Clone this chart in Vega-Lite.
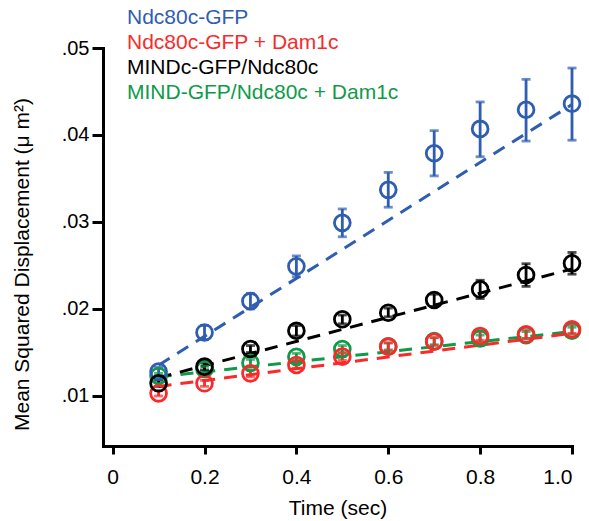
{
  "$schema": "https://vega.github.io/schema/vega-lite/v6.json",
  "autosize": {"type": "none"},
  "padding": {"left": 103, "top": 48, "right": 17, "bottom": 75},
  "width": 469,
  "height": 398,
  "config": {"font": "Liberation Sans", "view": {"stroke": null}},
  "datasets": {
    "obs": [
      {"series": "MIND-GFP/Ndc80c + Dam1c", "t": 0.1, "msd": 0.0123, "lo": 0.0120, "hi": 0.0126},
      {"series": "MIND-GFP/Ndc80c + Dam1c", "t": 0.2, "msd": 0.0131, "lo": 0.0128, "hi": 0.0134},
      {"series": "MIND-GFP/Ndc80c + Dam1c", "t": 0.3, "msd": 0.0138, "lo": 0.0134, "hi": 0.0142},
      {"series": "MIND-GFP/Ndc80c + Dam1c", "t": 0.4, "msd": 0.0145, "lo": 0.0141, "hi": 0.0149},
      {"series": "MIND-GFP/Ndc80c + Dam1c", "t": 0.5, "msd": 0.0154, "lo": 0.0150, "hi": 0.0158},
      {"series": "MIND-GFP/Ndc80c + Dam1c", "t": 0.6, "msd": 0.0157, "lo": 0.0153, "hi": 0.0161},
      {"series": "MIND-GFP/Ndc80c + Dam1c", "t": 0.7, "msd": 0.0163, "lo": 0.0159, "hi": 0.0167},
      {"series": "MIND-GFP/Ndc80c + Dam1c", "t": 0.8, "msd": 0.0166, "lo": 0.0162, "hi": 0.0170},
      {"series": "MIND-GFP/Ndc80c + Dam1c", "t": 0.9, "msd": 0.0170, "lo": 0.0166, "hi": 0.0174},
      {"series": "MIND-GFP/Ndc80c + Dam1c", "t": 1.0, "msd": 0.0175, "lo": 0.0171, "hi": 0.0179},
      {"series": "Ndc80c-GFP + Dam1c", "t": 0.1, "msd": 0.0103, "lo": 0.0100, "hi": 0.0106},
      {"series": "Ndc80c-GFP + Dam1c", "t": 0.2, "msd": 0.01146, "lo": 0.0111, "hi": 0.0118},
      {"series": "Ndc80c-GFP + Dam1c", "t": 0.3, "msd": 0.0126, "lo": 0.0122, "hi": 0.0130},
      {"series": "Ndc80c-GFP + Dam1c", "t": 0.4, "msd": 0.01356, "lo": 0.0132, "hi": 0.0140},
      {"series": "Ndc80c-GFP + Dam1c", "t": 0.5, "msd": 0.01452, "lo": 0.0141, "hi": 0.0149},
      {"series": "Ndc80c-GFP + Dam1c", "t": 0.6, "msd": 0.01567, "lo": 0.0152, "hi": 0.0161},
      {"series": "Ndc80c-GFP + Dam1c", "t": 0.7, "msd": 0.01624, "lo": 0.0158, "hi": 0.0167},
      {"series": "Ndc80c-GFP + Dam1c", "t": 0.8, "msd": 0.0169, "lo": 0.0164, "hi": 0.0174},
      {"series": "Ndc80c-GFP + Dam1c", "t": 0.9, "msd": 0.01709, "lo": 0.0166, "hi": 0.0176},
      {"series": "Ndc80c-GFP + Dam1c", "t": 1.0, "msd": 0.01767, "lo": 0.0172, "hi": 0.0182},
      {"series": "Ndc80c-GFP", "t": 0.1, "msd": 0.0128, "lo": 0.0123, "hi": 0.0133},
      {"series": "Ndc80c-GFP", "t": 0.2, "msd": 0.0173, "lo": 0.0165, "hi": 0.0181},
      {"series": "Ndc80c-GFP", "t": 0.3, "msd": 0.0209, "lo": 0.0200, "hi": 0.0218},
      {"series": "Ndc80c-GFP", "t": 0.4, "msd": 0.0249, "lo": 0.0237, "hi": 0.0261},
      {"series": "Ndc80c-GFP", "t": 0.5, "msd": 0.0299, "lo": 0.0283, "hi": 0.0315},
      {"series": "Ndc80c-GFP", "t": 0.6, "msd": 0.0337, "lo": 0.0317, "hi": 0.0357},
      {"series": "Ndc80c-GFP", "t": 0.7, "msd": 0.0379, "lo": 0.0353, "hi": 0.0405},
      {"series": "Ndc80c-GFP", "t": 0.8, "msd": 0.0407, "lo": 0.0375, "hi": 0.0438},
      {"series": "Ndc80c-GFP", "t": 0.9, "msd": 0.0429, "lo": 0.0393, "hi": 0.0464},
      {"series": "Ndc80c-GFP", "t": 1.0, "msd": 0.0436, "lo": 0.0394, "hi": 0.0477},
      {"series": "MINDc-GFP/Ndc80c", "t": 0.1, "msd": 0.01146, "lo": 0.0111, "hi": 0.0118},
      {"series": "MINDc-GFP/Ndc80c", "t": 0.2, "msd": 0.01337, "lo": 0.0130, "hi": 0.0138},
      {"series": "MINDc-GFP/Ndc80c", "t": 0.3, "msd": 0.0154, "lo": 0.0150, "hi": 0.0158},
      {"series": "MINDc-GFP/Ndc80c", "t": 0.4, "msd": 0.0175, "lo": 0.0169, "hi": 0.0181},
      {"series": "MINDc-GFP/Ndc80c", "t": 0.5, "msd": 0.01882, "lo": 0.0183, "hi": 0.0193},
      {"series": "MINDc-GFP/Ndc80c", "t": 0.6, "msd": 0.01957, "lo": 0.0191, "hi": 0.0201},
      {"series": "MINDc-GFP/Ndc80c", "t": 0.7, "msd": 0.02103, "lo": 0.0203, "hi": 0.0217},
      {"series": "MINDc-GFP/Ndc80c", "t": 0.8, "msd": 0.02226, "lo": 0.0212, "hi": 0.0233},
      {"series": "MINDc-GFP/Ndc80c", "t": 0.9, "msd": 0.02391, "lo": 0.0226, "hi": 0.0252},
      {"series": "MINDc-GFP/Ndc80c", "t": 1.0, "msd": 0.02525, "lo": 0.0240, "hi": 0.0265}
    ],
    "fit": [
      {"series": "MIND-GFP/Ndc80c + Dam1c", "t": 0.1, "msd": 0.0122},
      {"series": "MIND-GFP/Ndc80c + Dam1c", "t": 1.0, "msd": 0.0174},
      {"series": "Ndc80c-GFP + Dam1c", "t": 0.1, "msd": 0.0111},
      {"series": "Ndc80c-GFP + Dam1c", "t": 1.0, "msd": 0.0172},
      {"series": "Ndc80c-GFP", "t": 0.1, "msd": 0.01353},
      {"series": "Ndc80c-GFP", "t": 1.0, "msd": 0.0435},
      {"series": "MINDc-GFP/Ndc80c", "t": 0.1, "msd": 0.0121},
      {"series": "MINDc-GFP/Ndc80c", "t": 1.0, "msd": 0.0246}
    ]
  },
  "encoding": {
    "x": {
      "field": "t", "type": "quantitative",
      "scale": {"domain": [-0.021, 1.0], "nice": false, "zero": false},
      "axis": {
        "title": "Time (sec)", "values": [0, 0.2, 0.4, 0.6, 0.8, 1.0],
        "labelExpr": "datum.value == 0 ? '0' : format(datum.value, '.1f')",
        "grid": false, "domainColor": "black", "domainWidth": 3, "domainCap": "square",
        "tickColor": "black", "tickWidth": 3, "tickSize": 8,
        "labelFontSize": 21, "labelColor": "black", "labelPadding": 12,
        "titleFontSize": 21, "titleFontWeight": "normal", "titleColor": "black", "titlePadding": 10
      }
    },
    "y": {
      "field": "msd", "type": "quantitative",
      "scale": {"domain": [0.00425, 0.05], "nice": false, "zero": false},
      "axis": {
        "title": "Mean Squared Displacement (μ m²)", "values": [0.01, 0.02, 0.03, 0.04, 0.05],
        "labelExpr": "substring(format(datum.value, '.2f'), 1)",
        "grid": false, "domainColor": "black", "domainWidth": 3, "domainCap": "square",
        "tickColor": "black", "tickWidth": 3, "tickSize": 11,
        "labelFontSize": 20, "labelColor": "black", "labelPadding": 3,
        "titleFontSize": 21, "titleFontWeight": "normal", "titleColor": "black",
        "titleX": -75, "titleY": 216, "titleAlign": "center", "titleBaseline": "alphabetic", "titleAngle": -90
      }
    },
    "color": {
      "field": "series", "type": "nominal",
      "scale": {
        "domain": ["Ndc80c-GFP", "Ndc80c-GFP + Dam1c", "MINDc-GFP/Ndc80c", "MIND-GFP/Ndc80c + Dam1c"],
        "range": ["#2E5DB2", "#FA2A2A", "#000000", "#0F9A48"]
      },
      "legend": {
        "title": null, "orient": "none", "legendX": 3, "legendY": -41,
        "padding": 0, "symbolSize": 0, "symbolStrokeWidth": 0, "symbolOpacity": 0,
        "labelOffset": 0, "labelFontSize": 21, "labelLimit": 500, "rowPadding": 3,
        "encode": {"labels": {"update": {"fill": {"scale": "color", "field": "value"}}}}
      }
    }
  },
  "layer": [
    {
      "data": {"name": "fit"},
      "mark": {"type": "line", "strokeDash": [13, 9], "strokeWidth": 3}
    },
    {
      "data": {"name": "obs"},
      "mark": {"type": "rule", "strokeWidth": 2.8},
      "encoding": {"y": {"field": "lo", "type": "quantitative"}, "y2": {"field": "hi"}}
    },
    {
      "data": {"name": "obs"},
      "mark": {"type": "tick", "orient": "horizontal", "size": 9, "thickness": 2.8},
      "encoding": {"y": {"field": "lo", "type": "quantitative"}}
    },
    {
      "data": {"name": "obs"},
      "mark": {"type": "tick", "orient": "horizontal", "size": 9, "thickness": 2.8},
      "encoding": {"y": {"field": "hi", "type": "quantitative"}}
    },
    {
      "data": {"name": "obs"},
      "mark": {"type": "point", "filled": false, "size": 250, "strokeWidth": 2.8, "opacity": 1}
    }
  ]
}
